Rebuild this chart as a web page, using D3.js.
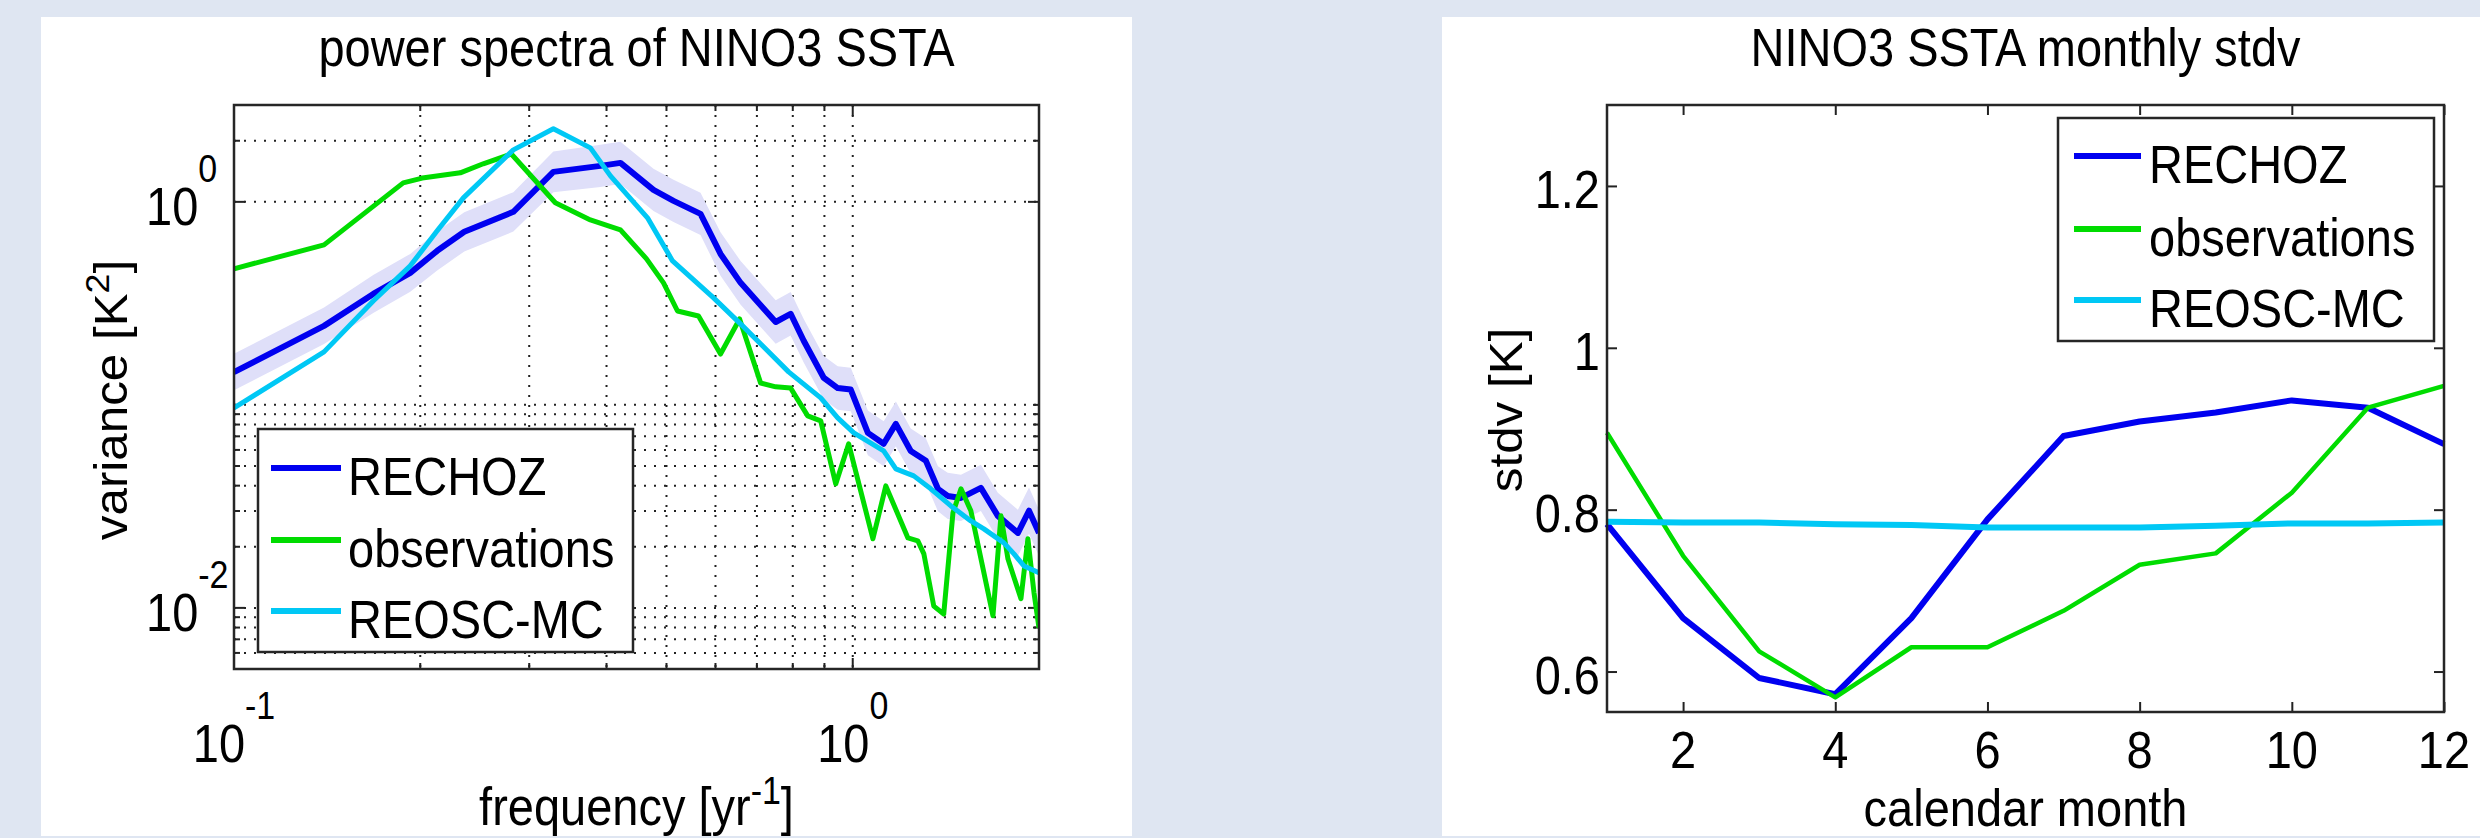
<!DOCTYPE html>
<html><head><meta charset="utf-8">
<script src="https://cdn.jsdelivr.net/npm/d3@7"></script>
<style>
body{margin:0;background:#dfe6f2;}
text{font-family:"Liberation Sans",Arial,Helvetica,sans-serif;fill:#000;}
</style></head>
<body>
<svg id="chart" width="2480" height="838"></svg>
<script>
// ---------- data: power spectra (left) ----------
const rechozFreq = [0.1,0.1398,0.1679,0.1927,0.2130,0.2356,0.2828,0.3282,0.3910,0.4213,0.4764,0.5133,0.5675,0.6114,0.6589,0.7507,0.7937,0.8332,0.8976,0.9456,0.9926,1.058,1.122,1.174,1.241,1.313,1.373,1.424,1.496,1.611,1.716,1.849,1.927,2.0];
const rechozVar  = [0.145,0.245,0.352,0.447,0.574,0.712,0.893,1.405,1.504,1.556,1.146,1.011,0.873,0.554,0.399,0.256,0.281,0.207,0.136,0.121,0.119,0.0728,0.0643,0.0806,0.0593,0.053,0.0386,0.0356,0.0348,0.039,0.0284,0.0234,0.0301,0.0234];
const rechozBand = [1.23,1.23,1.24,1.24,1.25,1.25,1.25,1.26,1.27,1.27,1.27,1.27,1.27,1.28,1.28,1.28,1.28,1.28,1.28,1.28,1.28,1.29,1.29,1.29,1.29,1.29,1.29,1.3,1.3,1.3,1.3,1.3,1.3,1.3];
const obsFreq = [0.1,0.1398,0.1877,0.2015,0.2321,0.2528,0.2807,0.3306,0.3767,0.4213,0.4642,0.4945,0.5209,0.5633,0.6114,0.6564,0.7099,0.7507,0.7937,0.8457,0.8877,0.9387,0.985,1.078,1.131,1.228,1.274,1.303,1.352,1.403,1.452,1.496,1.552,1.685,1.736,1.782,1.870,1.919,1.963,2.0];
const obsVar  = [0.468,0.614,1.24,1.31,1.39,1.54,1.72,0.99,0.815,0.728,0.524,0.399,0.290,0.274,0.178,0.265,0.128,0.1227,0.121,0.0883,0.0834,0.0408,0.0643,0.0219,0.0399,0.0221,0.0214,0.01845,0.0102,0.00933,0.0294,0.0386,0.0301,0.00914,0.0284,0.0174,0.0111,0.0219,0.0119,0.00797];
const reoscFreq = [0.1,0.1398,0.1679,0.1927,0.2130,0.2348,0.2828,0.3282,0.3767,0.4059,0.4659,0.5114,0.5958,0.6637,0.7877,0.8877,0.9456,1.004,1.122,1.174,1.255,1.337,1.441,1.552,1.629,1.755,1.822,1.891,2.0];
const reoscVar  = [0.0966,0.1824,0.325,0.484,0.720,1.046,1.804,2.29,1.845,1.343,0.834,0.512,0.3366,0.245,0.1454,0.1083,0.0863,0.0728,0.0593,0.0484,0.0447,0.0386,0.0318,0.0268,0.0245,0.0209,0.01845,0.0161,0.01488];
const specXGrid = [0.2,0.3,0.4,0.5,0.6,0.7,0.8,0.9,1];
const specYGrid = [2,1,0.1,0.09,0.08,0.07,0.06,0.05,0.04,0.03,0.02,0.01,0.009,0.008,0.007,0.006];
const specXLabels = [{v:0.1,e:"-1"},{v:1,e:"0"}];
const specYLabels = [{v:1,e:"0"},{v:0.01,e:"-2"}];

// ---------- data: monthly stdv (right) ----------
const months = [1,2,3,4,5,6,7,8,9,10,11,12];
const rechozStd = [0.782,0.666,0.592,0.572,0.666,0.788,0.891,0.909,0.920,0.935,0.926,0.881];
const obsStd    = [0.895,0.743,0.625,0.568,0.630,0.630,0.675,0.732,0.746,0.821,0.926,0.953];
const reoscStd  = [0.785,0.784,0.784,0.782,0.781,0.778,0.778,0.778,0.780,0.783,0.783,0.784];
const stdYTicks = [0.6,0.8,1,1.2];
const stdXTicks = [2,4,6,8,10,12];

const seriesNames = ["RECHOZ","observations","REOSC-MC"];
const colors = {RECHOZ:"#0000f0", observations:"#00dc00", "REOSC-MC":"#00c8f5"};
const widthsL = {RECHOZ:6, observations:5, "REOSC-MC":5};
const widthsR = {RECHOZ:6, observations:4.5, "REOSC-MC":6};

const FS = 47;      // font size
const K = 1.15;     // vertical stretch of horizontal glyphs (as in the reference)
const KR = 1.05;    // stretch along rotated labels
const SUP = 34;     // superscript size
const svg = d3.select("#chart");

function label(g, x, y, parts, anchor, rotate, k){
  const kk = k || K;
  const tr = rotate ? `translate(${x},${y}) rotate(-90) scale(${KR},1)` : `translate(${x},${y}) scale(1,${kk})`;
  const t = g.append("g").attr("transform",tr).append("text")
    .attr("x",0).attr("y",0).attr("text-anchor",anchor||"start").style("font-size",FS+"px");
  parts.forEach(p=>{
    const s = t.append("tspan").text(p.t);
    if(p.dy) s.attr("dy",p.dy);
    if(p.sup) s.style("font-size",SUP+"px");
  });
  return t;
}

// panels
svg.append("rect").attr("x",41).attr("y",17).attr("width",1091).attr("height",819).attr("fill","#fff");
svg.append("rect").attr("x",1442).attr("y",17).attr("width",1038).attr("height",819).attr("fill","#fff");

// ================= LEFT =================
const L = {x0:234,x1:1039,y0:105,y1:669};
const xL = d3.scaleLog().domain([0.1,2]).range([L.x0,L.x1]);
const yL = d3.scaleLog().domain([0.005,3]).range([L.y1,L.y0]);
const gL = svg.append("g");
const dot = "2,8";
gL.selectAll(".vg").data(specXGrid).join("line")
  .attr("x1",d=>xL(d)).attr("x2",d=>xL(d)).attr("y1",L.y0).attr("y2",L.y1)
  .attr("stroke","#222").attr("stroke-width",2).attr("stroke-dasharray",dot);
gL.selectAll(".hg").data(specYGrid).join("line")
  .attr("x1",L.x0).attr("x2",L.x1).attr("y1",d=>yL(d)).attr("y2",d=>yL(d))
  .attr("stroke","#222").attr("stroke-width",2).attr("stroke-dasharray",dot);

function tickV(g, vals, sc, len){
  vals.forEach(v=>{
    g.append("line").attr("x1",sc(v)).attr("x2",sc(v)).attr("y1",L.y1).attr("y2",L.y1-len).attr("stroke","#222").attr("stroke-width",2);
    g.append("line").attr("x1",sc(v)).attr("x2",sc(v)).attr("y1",L.y0).attr("y2",L.y0+len).attr("stroke","#222").attr("stroke-width",2);
  });
}
function tickH(g, vals, sc, len){
  vals.forEach(v=>{
    g.append("line").attr("y1",sc(v)).attr("y2",sc(v)).attr("x1",L.x0).attr("x2",L.x0+len).attr("stroke","#222").attr("stroke-width",2);
    g.append("line").attr("y1",sc(v)).attr("y2",sc(v)).attr("x1",L.x1).attr("x2",L.x1-len).attr("stroke","#222").attr("stroke-width",2);
  });
}
tickV(gL, [0.2,0.3,0.4,0.5,0.6,0.7,0.8,0.9], xL, 6); tickV(gL, [1], xL, 11);
tickH(gL, specYGrid.filter(v=>v!==1&&v!==0.01), yL, 6); tickH(gL, [1,0.01], yL, 11);

const bandData = rechozFreq.map((f,i)=>({f, lo:rechozVar[i]/rechozBand[i], hi:rechozVar[i]*rechozBand[i]}));
gL.append("path").datum(bandData)
  .attr("d", d3.area().x(d=>xL(d.f)).y0(d=>yL(d.lo)).y1(d=>yL(d.hi)))
  .attr("fill","#dfdff9");
const lineL = d3.line().x(d=>xL(d[0])).y(d=>yL(d[1]));
const specSeries = [
  {name:"RECHOZ", pts:d3.zip(rechozFreq, rechozVar)},
  {name:"observations", pts:d3.zip(obsFreq, obsVar)},
  {name:"REOSC-MC", pts:d3.zip(reoscFreq, reoscVar)}
];
gL.append("defs").append("clipPath").attr("id","clipL").append("rect")
  .attr("x",L.x0).attr("y",L.y0).attr("width",L.x1-L.x0).attr("height",L.y1-L.y0);
specSeries.forEach(s=>{
  gL.append("path").datum(s.pts).attr("d",lineL).attr("fill","none")
    .attr("stroke",colors[s.name]).attr("stroke-width",widthsL[s.name])
    .attr("stroke-linejoin","round").attr("clip-path","url(#clipL)");
});
gL.append("rect").attr("x",L.x0).attr("y",L.y0).attr("width",L.x1-L.x0).attr("height",L.y1-L.y0)
  .attr("fill","none").attr("stroke","#262626").attr("stroke-width",2.5);

specXLabels.forEach(t=>{
  label(gL, xL(t.v), 762, [{t:"10"},{t:t.e,dy:-37,sup:true}], "middle");
});
specYLabels.forEach(t=>{
  label(gL, 146, yL(t.v)+23, [{t:"10"},{t:t.e,dy:-37,sup:true}], "start");
});
label(gL, (L.x0+L.x1)/2, 66, [{t:"power spectra of NINO3 SSTA"}], "middle");
label(gL, (L.x0+L.x1)/2, 825, [{t:"frequency [yr"},{t:"-1",dy:-18,sup:true},{t:"]",dy:18}], "middle");
label(gL, 127, 400, [{t:"variance [K"},{t:"2",dy:-18,sup:true},{t:"]",dy:18}], "middle", true);

function legend(g, bx, by, bw, bh, lx0, lx1, rows, tx){
  g.append("rect").attr("x",bx).attr("y",by).attr("width",bw).attr("height",bh)
    .attr("fill","#fff").attr("stroke","#262626").attr("stroke-width",2.5);
  seriesNames.forEach((n,i)=>{
    g.append("line").attr("x1",lx0).attr("x2",lx1).attr("y1",rows[i]).attr("y2",rows[i])
      .attr("stroke",colors[n]).attr("stroke-width",6);
    label(g, tx, rows[i]+27, [{t:n}], "start");
  });
}
legend(gL, 258, 429, 375, 223, 271, 341, [468,540,611], 348);

// ================= RIGHT =================
const R = {x0:1607,x1:2444,y0:105,y1:712};
const xR = d3.scaleLinear().domain([1,12]).range([R.x0,R.x1]);
const yR = d3.scaleLinear().domain([0.55,1.3]).range([R.y1,R.y0]);
const gR = svg.append("g");
const tickStyle = g=>{g.select(".domain").remove(); g.selectAll("line").attr("stroke","#222").attr("stroke-width",2);};
gR.append("g").attr("transform",`translate(0,${R.y1})`).call(d3.axisBottom(xR).tickValues(stdXTicks).tickSize(-10).tickFormat("")).call(tickStyle);
gR.append("g").attr("transform",`translate(0,${R.y0})`).call(d3.axisTop(xR).tickValues(stdXTicks).tickSize(-10).tickFormat("")).call(tickStyle);
gR.append("g").attr("transform",`translate(${R.x0},0)`).call(d3.axisLeft(yR).tickValues(stdYTicks).tickSize(-10).tickFormat("")).call(tickStyle);
gR.append("g").attr("transform",`translate(${R.x1},0)`).call(d3.axisRight(yR).tickValues(stdYTicks).tickSize(-10).tickFormat("")).call(tickStyle);
const fmt = d3.format("");
stdXTicks.forEach(v=>label(gR, xR(v), 768, [{t:fmt(v)}], "middle", false, 1.1));
stdYTicks.forEach(v=>label(gR, R.x0-7, yR(v)+22, [{t:fmt(v)}], "end"));

const lineR = d3.line().x(d=>xR(d[0])).y(d=>yR(d[1]));
const stdSeries = [
  {name:"RECHOZ", pts:d3.zip(months, rechozStd)},
  {name:"observations", pts:d3.zip(months, obsStd)},
  {name:"REOSC-MC", pts:d3.zip(months, reoscStd)}
];
stdSeries.forEach(s=>{
  gR.append("path").datum(s.pts).attr("d",lineR).attr("fill","none")
    .attr("stroke",colors[s.name]).attr("stroke-width",widthsR[s.name]).attr("stroke-linejoin","round");
});
gR.append("rect").attr("x",R.x0).attr("y",R.y0).attr("width",R.x1-R.x0).attr("height",R.y1-R.y0)
  .attr("fill","none").attr("stroke","#262626").attr("stroke-width",2.5);
label(gR, (R.x0+R.x1)/2, 66, [{t:"NINO3 SSTA monthly stdv"}], "middle");
label(gR, (R.x0+R.x1)/2, 826, [{t:"calendar month"}], "middle", false, 1.1);
label(gR, 1522, 410, [{t:"stdv [K]"}], "middle", true);
legend(gR, 2058, 118, 376, 223, 2074, 2141, [156,229,300], 2149);
</script>
</body></html>
